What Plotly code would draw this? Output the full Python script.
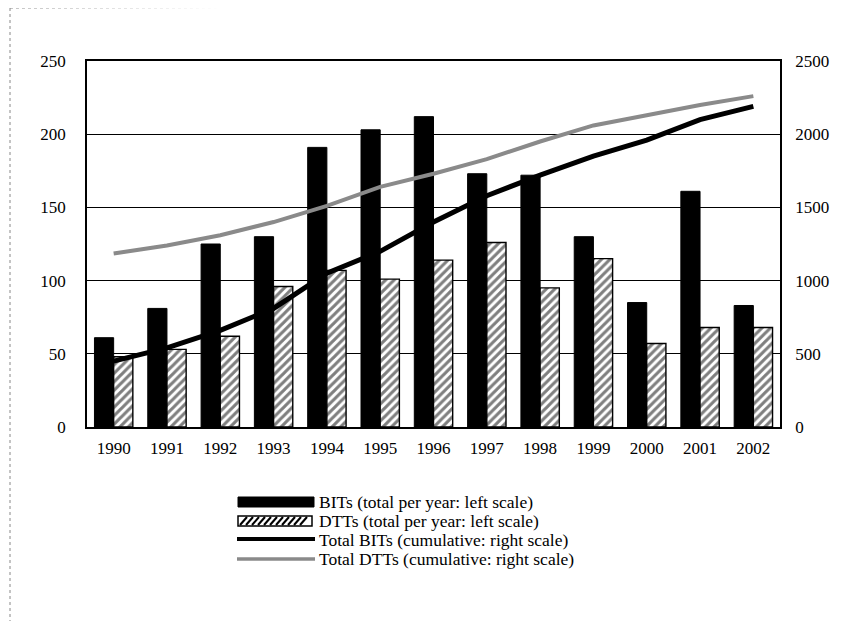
import plotly.graph_objects as go

years = ["1990", "1991", "1992", "1993", "1994", "1995", "1996",
         "1997", "1998", "1999", "2000", "2001", "2002"]
bits_year = [61, 81, 125, 130, 191, 203, 212, 173, 172, 130, 85, 161, 83]
dtts_year = [48, 53, 62, 96, 107, 101, 114, 126, 95, 115, 57, 68, 68]
bits_cum = [450, 540, 660, 810, 1050, 1200, 1400, 1580, 1720, 1850, 1960, 2100, 2190]
dtts_cum = [1185, 1240, 1310, 1400, 1510, 1640, 1730, 1830, 1950, 2060, 2130, 2200, 2260]

names = ["BITs (total per year: left scale)",
         "DTTs (total per year: left scale)",
         "Total BITs (cumulative: right scale)",
         "Total DTTs (cumulative: right scale)"]

FONT = "Liberation Serif"
GREY_LINE = "#8a8a8a"

# page is offset by the 8px default body margin; figure sized to fit
W, H = 848, 613
ML, MT, MR, MB = 79, 53, 76, 194
PW = W - ML - MR
PH = H - MT - MB


def px(xp):
    return (xp - 8 - ML) / PW


def py(yp):
    return (H - MB - (yp - 8)) / PH


fig = go.Figure()
fig.add_trace(go.Bar(x=years, y=bits_year, name=names[0],
                     marker=dict(color="black", line=dict(color="black", width=1))))
fig.add_trace(go.Bar(x=years, y=dtts_year, name=names[1],
                     marker=dict(color="white", line=dict(color="black", width=1.4),
                                 pattern=dict(shape="/", fgcolor="black", bgcolor="white",
                                              size=6, solidity=0.52))))
fig.add_trace(go.Scatter(x=years, y=bits_cum, name=names[2], yaxis="y2",
                         mode="lines", line=dict(color="black", width=5)))
fig.add_trace(go.Scatter(x=years, y=dtts_cum, name=names[3], yaxis="y2",
                         mode="lines", line=dict(color=GREY_LINE, width=4)))

shapes = [
    dict(type="line", xref="paper", yref="paper", x0=px(10), x1=px(870), y0=py(8), y1=py(6),
         line=dict(color="#888888", width=1, dash="dot")),
    dict(type="line", xref="paper", yref="paper", x0=px(10), x1=px(10), y0=py(8), y1=py(640),
         line=dict(color="#888888", width=1, dash="dot")),
    # legend symbols
    dict(type="rect", xref="paper", yref="paper", x0=px(238), x1=px(314), y0=py(497), y1=py(507),
         fillcolor="black", line=dict(color="black", width=1)),
    dict(type="rect", xref="paper", yref="paper", x0=px(238), x1=px(312), y0=py(516), y1=py(526),
         fillcolor="white", line=dict(color="black", width=1.5)),
    dict(type="line", xref="paper", yref="paper", x0=px(237), x1=px(315), y0=py(539), y1=py(539),
         line=dict(color="black", width=4)),
    dict(type="line", xref="paper", yref="paper", x0=px(237), x1=px(315), y0=py(559), y1=py(559),
         line=dict(color=GREY_LINE, width=3.5)),
]
# hatch strokes inside the DTT legend symbol
for k in range(12):
    xs = 240 + k * 6
    x0, x1 = xs, xs + 7
    if x1 > 311:
        break
    shapes.append(dict(type="line", xref="paper", yref="paper",
                       x0=px(x0), x1=px(x1), y0=py(525), y1=py(517),
                       line=dict(color="black", width=2)))

annotations = []
for name, yc in zip(names, [502, 521, 540, 559]):
    annotations.append(dict(text=name, xref="paper", yref="paper", x=px(317), y=py(yc),
                            xanchor="left", yanchor="middle", showarrow=False,
                            font=dict(family=FONT, size=17.5, color="black")))

fig.update_layout(
    width=W, height=H,
    margin=dict(l=ML, r=MR, t=MT, b=MB, autoexpand=False),
    paper_bgcolor="white", plot_bgcolor="white",
    font=dict(family=FONT, size=17, color="black"),
    barmode="group", bargap=0.28, bargroupgap=0.0,
    xaxis=dict(showgrid=False, showline=True, linecolor="black", linewidth=1.5,
               mirror=True, ticks="", tickfont=dict(size=17), ticklabelstandoff=5),
    yaxis=dict(range=[0, 250], dtick=50, showgrid=True, gridcolor="black", gridwidth=1.3,
               showline=True, linecolor="black", linewidth=1.5, ticks="",
               zeroline=False, tickfont=dict(size=17), ticklabelstandoff=16),
    yaxis2=dict(range=[0, 2500], dtick=500, overlaying="y", side="right",
                showgrid=False, showline=True, linecolor="black", linewidth=1.5,
                ticks="", zeroline=False, tickfont=dict(size=17), ticklabelstandoff=10),
    showlegend=False,
    shapes=shapes,
    annotations=annotations,
)

fig.write_html("out.html")
